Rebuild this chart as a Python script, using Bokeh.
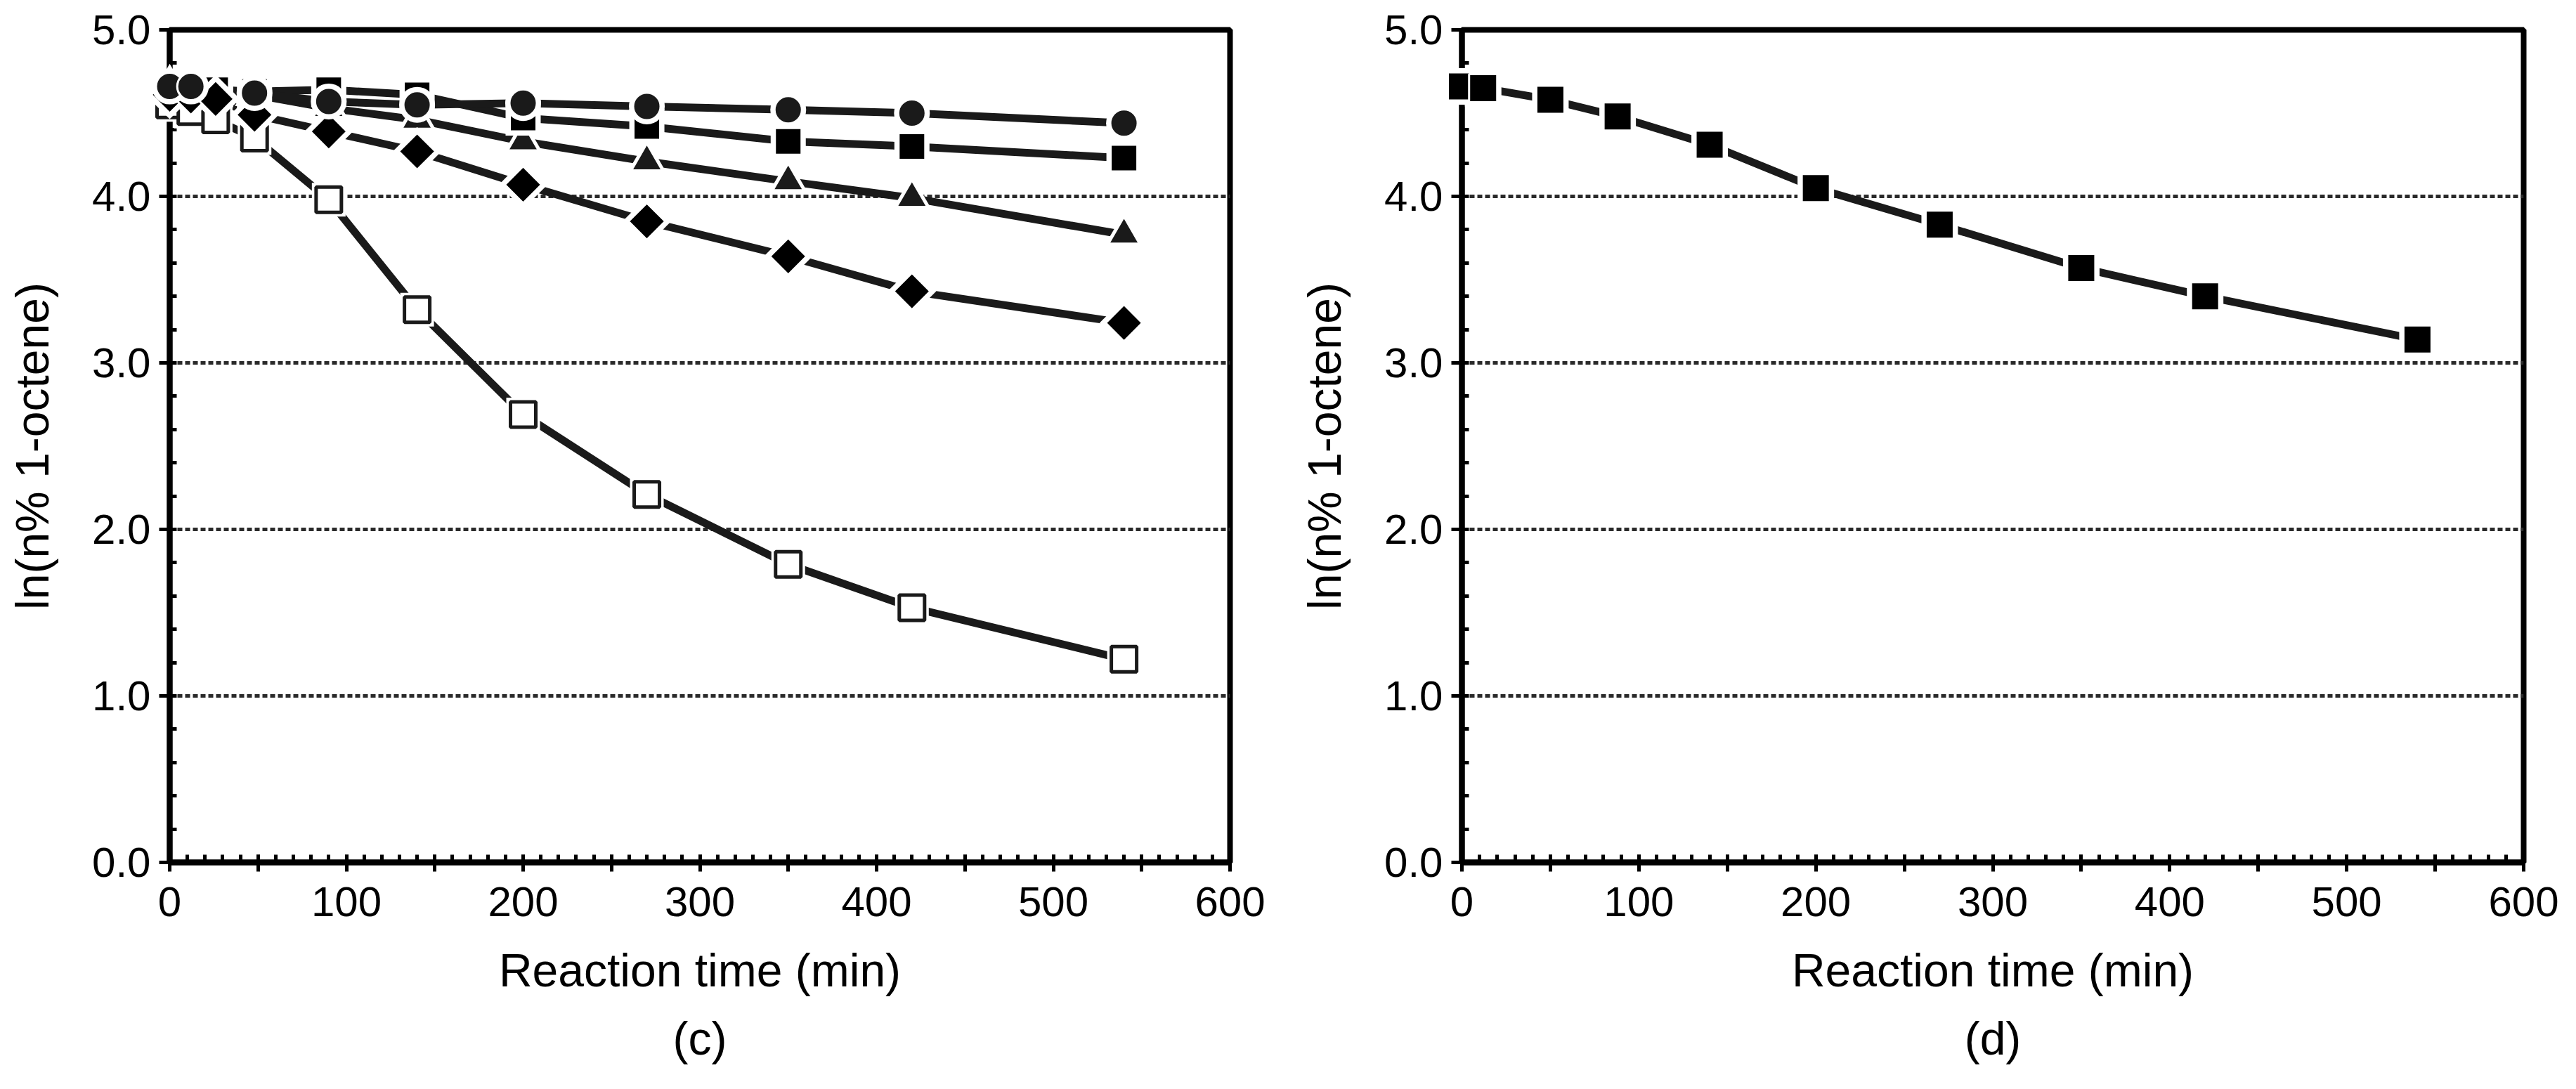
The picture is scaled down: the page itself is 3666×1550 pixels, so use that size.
import math

from bokeh.embed import file_html
from bokeh.layouts import row
from bokeh.models import FixedTicker, PrintfTickFormatter, Range1d, Title
from bokeh.plotting import figure
from bokeh.resources import INLINE

FONT = "Liberation Sans"
INK = "#1a1a1a"

# panel (c): reaction time (min) and ln(n% 1-octene) for five runs
c_times = [0, 12, 26, 48, 90, 140, 200, 270, 350, 420, 540]
c_circle_times = [0, 12, 48, 90, 140, 200, 270, 350, 420, 540]
c_circle = [4.66, 4.66, 4.62, 4.57, 4.55, 4.56, 4.54, 4.52, 4.50, 4.44]
c_square = [4.66, 4.65, 4.64, 4.63, 4.64, 4.61, 4.47, 4.42, 4.33, 4.30, 4.23]
c_triangle = [4.66, 4.65, 4.63, 4.61, 4.53, 4.46, 4.33, 4.21, 4.09, 3.99, 3.77]
c_diamond = [4.61, 4.60, 4.585, 4.49, 4.39, 4.27, 4.07, 3.85, 3.64, 3.43, 3.24]
c_open_square = [4.55, 4.51, 4.46, 4.35, 3.98, 3.32, 2.69, 2.21, 1.79, 1.53, 1.22]

# panel (d)
d_times = [0, 12, 50, 88, 140, 200, 270, 350, 420, 540]
d_square = [4.66, 4.65, 4.58, 4.48, 4.31, 4.05, 3.83, 3.57, 3.40, 3.14]

x_major = list(range(0, 601, 50))
x_minor = list(range(0, 601, 10))
y_major = [0, 1, 2, 3, 4, 5]
y_minor = [i / 5 for i in range(26)]
grid_levels = [1, 2, 3, 4]


def make_panel(caption, border_left, border_right, border_top, frame_w):
    p = figure(x_range=Range1d(0, 600), y_range=Range1d(0, 5),
               frame_width=frame_w, frame_height=1185,
               min_border_left=border_left, min_border_right=border_right,
               min_border_top=border_top, min_border_bottom=280,
               output_backend="svg", toolbar_location=None)
    p.outline_line_color = "black"
    p.outline_line_width = 8
    p.outline_line_alpha = 1

    p.xaxis.ticker = FixedTicker(ticks=x_major, minor_ticks=x_minor)
    p.xaxis.major_label_overrides = {t: (str(t) if t % 100 == 0 else "") for t in x_major}
    p.xaxis.major_tick_in = 11
    p.xaxis.major_tick_out = 13
    p.xaxis.minor_tick_in = 11
    p.xaxis.minor_tick_out = 0
    p.xaxis.major_label_standoff = 22
    p.xaxis.axis_label = "Reaction time (min)"
    p.xaxis.axis_label_standoff = 37

    p.yaxis.ticker = FixedTicker(ticks=y_major, minor_ticks=y_minor)
    p.yaxis.formatter = PrintfTickFormatter(format="%.1f")
    p.yaxis.major_tick_in = 0
    p.yaxis.major_tick_out = 15
    p.yaxis.minor_tick_in = 10
    p.yaxis.minor_tick_out = 0
    p.yaxis.major_label_standoff = 12
    p.yaxis.axis_label = "ln(n% 1-octene)"
    p.yaxis.axis_label_standoff = 45

    for ax in (p.xaxis, p.yaxis):
        ax.axis_line_width = 8
        ax.axis_line_color = "black"
        ax.major_tick_line_width = 5
        ax.minor_tick_line_width = 5
        ax.major_tick_line_color = "black"
        ax.minor_tick_line_color = "black"
        ax.major_label_text_font = FONT
        ax.major_label_text_font_size = "60px"
        ax.major_label_text_color = "black"
        ax.axis_label_text_font = FONT
        ax.axis_label_text_font_size = "66px"
        ax.axis_label_text_font_style = "normal"
        ax.axis_label_text_color = "black"

    p.xgrid.visible = False
    p.ygrid.ticker = FixedTicker(ticks=grid_levels)
    p.ygrid.grid_line_color = "#2a2a2a"
    p.ygrid.grid_line_width = 5
    p.ygrid.grid_line_dash = "7 4"

    p.add_layout(Title(text=caption, align="center", text_font=FONT,
                       text_font_size="66px", text_font_style="normal",
                       text_color="black", standoff=36), "below")
    return p


def add_series(p, xs, ys, marker, fill, size, angle=0.0, line_color="white", line_width=3):
    p.line(xs, ys, line_color=INK, line_width=11, line_join="round")
    p.scatter(xs, ys, marker=marker, size=size + 12, angle=angle,
              fill_color="white", line_color="white", line_width=0, level="overlay")
    p.scatter(xs, ys, marker=marker, size=size, angle=angle,
              fill_color=fill, line_color=line_color, line_width=line_width, level="overlay")


pc = make_panel("(c)", 241, 72, 39, 1509)
add_series(pc, c_times, c_open_square, "square", "white", 36, line_color=INK, line_width=5)
add_series(pc, c_times, c_triangle, "triangle", INK, 44)
add_series(pc, c_times, c_square, "square", "black", 38)
add_series(pc, c_times, c_diamond, "square", "black", 37, angle=math.pi / 4)
add_series(pc, c_circle_times, c_circle, "circle", INK, 39)

pd_ = make_panel("(d)", 258, 55, 42, 1511)
add_series(pd_, d_times, d_square, "square", "black", 40)

layout = row(pc, pd_)
open("out.html", "w").write(file_html(layout, INLINE))
